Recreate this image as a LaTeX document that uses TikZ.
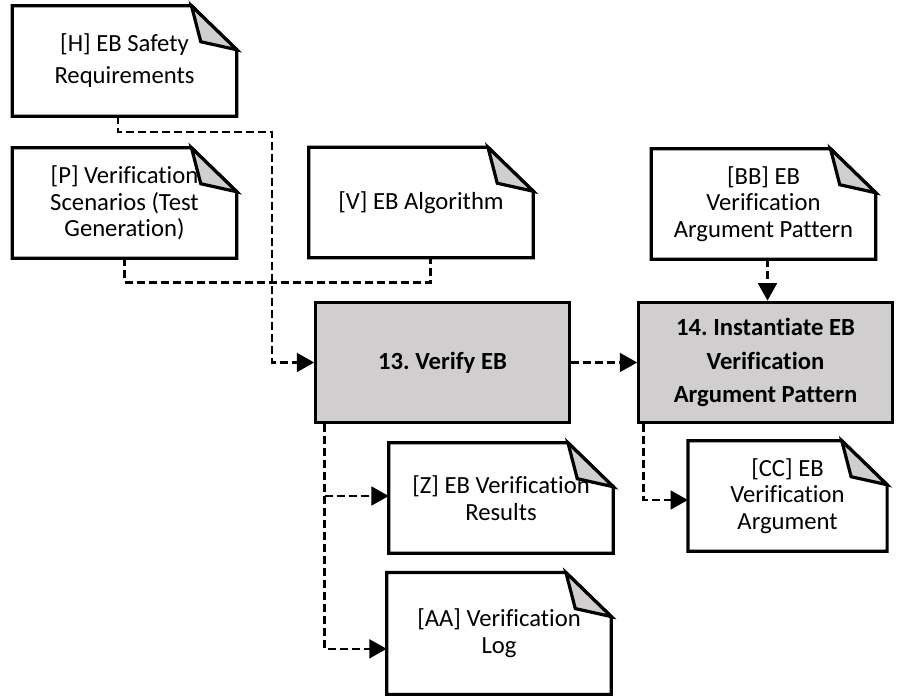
\documentclass[tikz,border=0pt]{standalone}
\usepackage{fontspec}
\setmainfont{Carlito}[Ligatures=NoCommon]
\frenchspacing
\usetikzlibrary{arrows.meta}
\definecolor{boxgray}{RGB}{208,206,206}
\tikzset{
  doc/.style={align=center, inner sep=0pt, minimum width=168pt, minimum height=82.5pt,
    font=\fontsize{18.5pt}{20pt}\selectfont},
  proc/.style={draw, fill=boxgray, line width=2.4pt, align=center, inner sep=0pt,
    minimum width=190pt, minimum height=90.5pt, font=\bfseries\fontsize{18.5pt}{25pt}\selectfont},
  link/.style={line width=2pt, dash pattern=on 6pt off 3pt},
  flow/.style={link, -{Triangle[length=13pt,width=14pt]}},
}
\begin{document}
\begin{tikzpicture}[x=0.75pt, y=-0.75pt]
\useasboundingbox (0,0) rectangle (898,695);

% documents
\node[doc] (H)  at (124.5,61)   {[H] EB Safety\\[4pt]Requirements};
\node[doc] (P)  at (124.5,203)  {[P] Verification\\Scenarios (Test\\Generation)};
\node[doc] (V)  at (421,202.5)  {[V] EB Algorithm};
\node[doc] (BB) at (763.5,204)  {[BB] EB\\Verification\\Argument Pattern};
\node[doc] (Z)  at (501,498)    {[Z] EB Verification\\Results};
\node[doc, minimum height=91pt] (AA) at (499,633.5) {[AA] Verification\\Log};
\node[doc, minimum width=149pt] (CC) at (787.5,496) {[CC] EB\\Verification\\Argument};

% steps
\node[proc] (verify) at (442.5,362.5) {13. Verify EB};
\node[proc] (inst)   at (765.5,362.5) {14. Instantiate EB\\Verification\\Argument Pattern};

\foreach \d in {H,P,V,BB,Z,AA,CC} {
  \draw[line width=2.4pt] (\d.south west) -- (\d.north west) -- ([xshift=-34pt]\d.north east)
    -- ([yshift=-33pt]\d.north east) -- (\d.south east) -- cycle;
  \draw[line width=2.4pt, fill=boxgray] ([xshift=-34pt]\d.north east)
    -- ([xshift=-27pt,yshift=-27pt]\d.north east) -- ([yshift=-33pt]\d.north east) -- cycle;
}

\coordinate (hbend) at (272,132);
\draw[flow] ([xshift=-5pt]H.south) |- (hbend) |- (verify.west);
\draw[link] (P.south) -- ++(0,24) -| ([xshift=7pt]V.south);
\draw[flow] (verify.east) -- (inst.west);
\draw[flow] ([xshift=3pt]BB.south) -- ([xshift=3pt]BB.south |- inst.north);
\draw[flow] ([xshift=7.5pt]verify.south west) |- ([yshift=1.5pt]Z.west);
\draw[flow] ([xshift=7.5pt]verify.south west) |- ([yshift=-11.5pt]AA.west);
\draw[flow] ([xshift=4.5pt]inst.south west) |- ([yshift=-3pt]CC.west);

\end{tikzpicture}
\end{document}
